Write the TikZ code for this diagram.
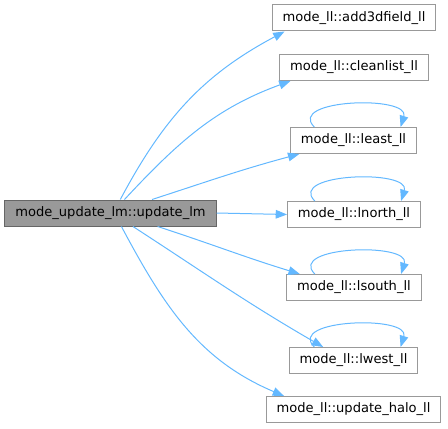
\documentclass[tikz,border=0pt]{standalone}
\usepackage{fontspec}
\setmainfont{DejaVu Sans}
\usetikzlibrary{arrows.meta}
\definecolor{edgeblue}{HTML}{63B8FF}
\tikzset{
    func/.style={draw=black!40, fill=white, line width=0.75pt,
        minimum height=19.5pt, inner xsep=7.8pt, inner ysep=0pt,
        font=\fontsize{9.8}{11}\selectfont},
    rootfunc/.style={func, draw=black!60, fill=black!40},
    call/.style={-{Triangle[length=8.5pt, width=6.5pt]}, edgeblue, line width=0.75pt},
    selfcall/.style={call}
}

\begin{document}
\begin{tikzpicture}[x=0.75pt, y=-0.75pt]
    \useasboundingbox (0,0) rectangle (448,428);
    \node[rootfunc] (root) at (110.5,213) {mode\_update\_lm::update\_lm};
    \node[func] (add3dfield) at (354,18) {mode\_ll::add3dfield\_ll};
    \node[func] (cleanlist) at (354,67.5) {mode\_ll::cleanlist\_ll};
    \node[func] (least) at (353.5,140.5) {mode\_ll::least\_ll};
    \node[func] (lnorth) at (354,214.5) {mode\_ll::lnorth\_ll};
    \node[func] (lsouth) at (354,287.5) {mode\_ll::lsouth\_ll};
    \node[func] (lwest) at (353.5,360.5) {mode\_ll::lwest\_ll};
    \node[func] (updatehalo) at (353.5,409.5) {mode\_ll::update\_halo\_ll};

    \draw[call] (root.54) to[out=62, in=208] (add3dfield.191);
    \draw[call] (root.44) to[out=47, in=200] (cleanlist.192);
    \draw[call] (root.18) to[out=18, in=195] (least.194);
    \draw[call] (root.east) -- (lnorth.west);
    \draw[call] (root.344) to[out=-18, in=163] (lsouth.166);
    \draw[call] (root.329) to[out=-33, in=150] (lwest.156);
    \draw[call] (root.309) to[out=-62, in=157] (updatehalo.169);

    \foreach \fn in {least, lnorth, lsouth, lwest}
        \draw[selfcall] (\fn.161) .. controls +(-28,-28) and +(10,-32) .. (\fn.16);
\end{tikzpicture}
\end{document}
